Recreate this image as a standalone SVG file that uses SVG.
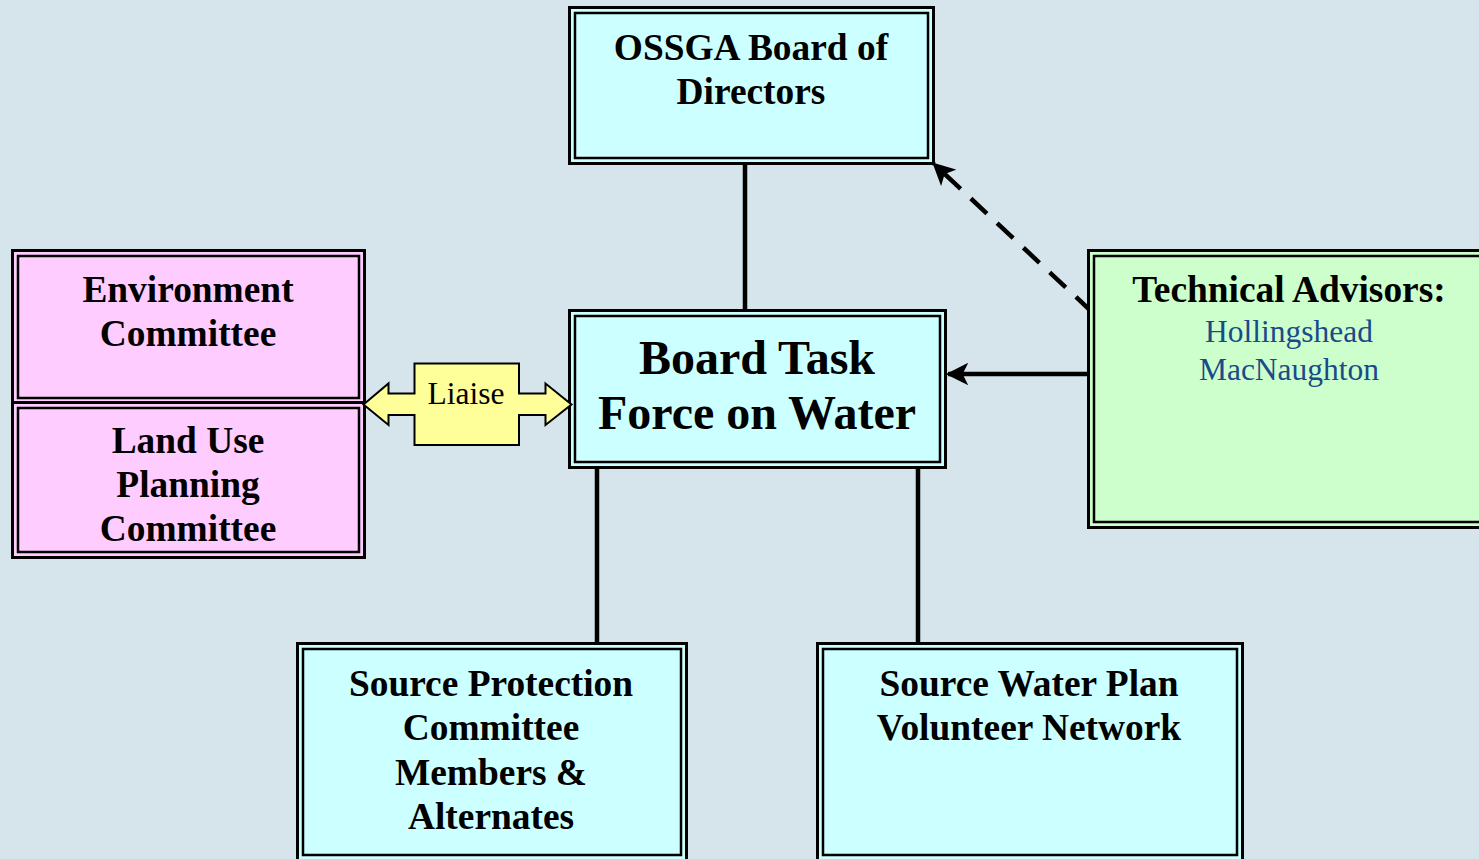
<svg xmlns="http://www.w3.org/2000/svg" width="1479" height="859" viewBox="0 0 1479 859">
<defs>
<style>
.o{stroke:#000;stroke-width:3}
.i{fill:none;stroke:#000;stroke-width:2.5}
.cy{fill:#ccffff}
.pk{fill:#ffccff}
.gr{fill:#ccffcc}
.t{font-family:"Liberation Serif","Times New Roman",serif;font-weight:bold;font-size:37.4px;text-anchor:middle;fill:#000}
.big{font-size:48px}
.bl{font-family:"Liberation Serif","Times New Roman",serif;font-size:31.5px;text-anchor:middle;fill:#1a4a8a}
.ln{stroke:#000;stroke-width:4.5;fill:none}
</style>
<marker id="ah" viewBox="0 0 10 10" refX="9" refY="5" markerWidth="5" markerHeight="5" orient="auto" markerUnits="strokeWidth">
<path d="M0,0 L10,5 L0,10 L2.5,5 z" fill="#000"/>
</marker>
</defs>
<rect width="1479" height="859" fill="#d6e4ec"/>

<g id="connectors">
<line class="ln" x1="745" y1="164" x2="745" y2="310"/>
<line class="ln" x1="597" y1="468" x2="597" y2="643"/>
<line class="ln" x1="918" y1="468" x2="918" y2="643"/>
<line class="ln" x1="1090" y1="374" x2="948" y2="374" marker-end="url(#ah)"/>
<line class="ln" x1="1092" y1="312" x2="934" y2="164" stroke-dasharray="22,14" marker-end="url(#ah)"/>
</g>

<g id="ossga">
<rect class="o cy" x="569.5" y="7.5" width="364" height="156"/>
<rect class="i" x="575" y="13" width="353" height="145"/>
<text class="t" x="751" y="60">OSSGA Board of</text>
<text class="t" x="751" y="104">Directors</text>
</g>

<g id="btf">
<rect class="o cy" x="569.5" y="310.5" width="376" height="157"/>
<rect class="i" x="575" y="316" width="365" height="146"/>
<text class="t big" x="757" y="374">Board Task</text>
<text class="t big" x="757" y="429">Force on Water</text>
</g>

<g id="env">
<rect class="o pk" x="12.5" y="250.5" width="352" height="152"/>
<rect class="i" x="18" y="256" width="341" height="142"/>
<text class="t" x="188" y="302">Environment</text>
<text class="t" x="188" y="346">Committee</text>
</g>

<g id="landuse">
<rect class="o pk" x="12.5" y="402.5" width="352" height="155"/>
<rect class="i" x="18" y="408" width="341" height="144"/>
<text class="t" x="188" y="453">Land Use</text>
<text class="t" x="188" y="497">Planning</text>
<text class="t" x="188" y="541">Committee</text>
</g>

<g id="liaise">
<polygon points="363.5,404.5 388.5,383.5 388.5,393.5 414.5,393.5 414.5,363.5 519,363.5 519,393.5 545.5,393.5 545.5,383.5 571.5,404.5 545.5,425 545.5,415 519,415 519,445 414.5,445 414.5,415 388.5,415 388.5,425" fill="#ffff99" stroke="#000" stroke-width="2"/>
<text x="466" y="404" font-family="'Liberation Serif','Times New Roman',serif" font-size="31.5" text-anchor="middle" fill="#000">Liaise</text>
</g>

<g id="tech">
<rect class="o gr" x="1088.5" y="250.5" width="400" height="277"/>
<rect class="i" x="1094" y="256" width="400" height="266"/>
<text class="t" x="1289" y="302">Technical Advisors:</text>
<text class="bl" x="1289" y="342">Hollingshead</text>
<text class="bl" x="1289" y="380">MacNaughton</text>
</g>

<g id="spc">
<rect class="o cy" x="297.5" y="643.5" width="389" height="220"/>
<rect class="i" x="303" y="649" width="378" height="206"/>
<text class="t" x="491" y="696">Source Protection</text>
<text class="t" x="491" y="740">Committee</text>
<text class="t" x="491" y="785">Members &amp;</text>
<text class="t" x="491" y="829">Alternates</text>
</g>

<g id="swp">
<rect class="o cy" x="817.5" y="643.5" width="425" height="220"/>
<rect class="i" x="823" y="649" width="414" height="206"/>
<text class="t" x="1029" y="696">Source Water Plan</text>
<text class="t" x="1029" y="740">Volunteer Network</text>
</g>
</svg>
